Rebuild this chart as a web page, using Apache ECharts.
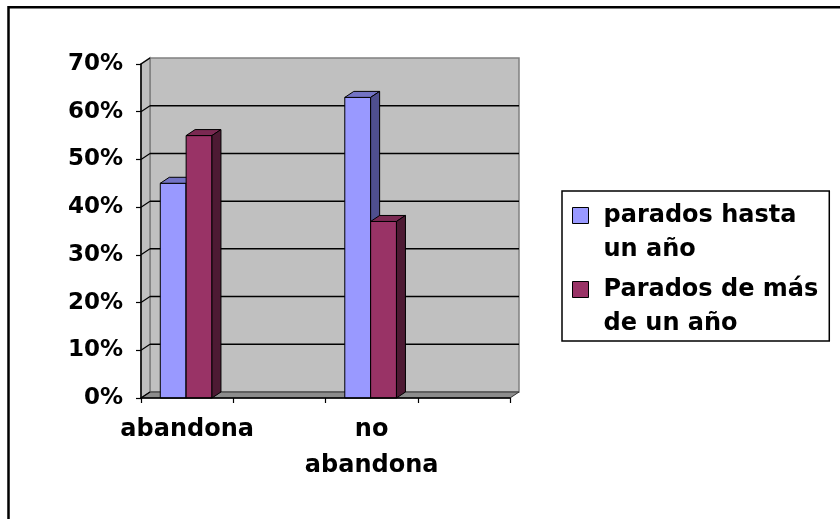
<!DOCTYPE html>
<html>
<head>
<meta charset="utf-8">
<script src="https://cdn.jsdelivr.net/npm/echarts@6/dist/echarts.min.js"></script>
<style>
  html, body { margin: 0; padding: 0; background: #fff; }
  #chart { width: 840px; height: 519px; }
</style>
</head>
<body>
<div id="chart"></div>
<script>
const CATEGORIES = ['abandona', '', 'no abandona', ''];
const SERIES_NAMES = ['parados hasta un año', 'Parados de más de un año'];
const HASTA_UN_ANO = [45, null, 63, null];
const MAS_DE_UN_ANO = [55, null, 37, null];
const Y_TICKS = [0, 10, 20, 30, 40, 50, 60, 70];

// depth offset of the fake 3d look
const DX = 9;
const DY = -6;
const BAR_RATIO = 0.28;
const FONT = 'DejaVu Sans';

function toPoints(values) {
  return values.map((v, i) => [i, v]).filter(d => d[1] != null);
}

function renderWalls(params, api) {
  const cs = params.coordSys;
  const x0 = cs.x, x1 = cs.x + cs.width;
  const yTop = cs.y, yBot = cs.y + cs.height;
  const children = [
    {
      type: 'rect',
      shape: { x: x0 + DX, y: yTop + DY, width: cs.width, height: cs.height },
      style: { fill: '#C0C0C0', stroke: '#808080', lineWidth: 1.5 }
    },
    {
      type: 'polygon',
      shape: { points: [[x0, yBot], [x0, yTop], [x0 + DX, yTop + DY], [x0 + DX, yBot + DY]] },
      style: { fill: '#C0C0C0', stroke: '#808080', lineWidth: 1.5 }
    },
    {
      type: 'polygon',
      shape: { points: [[x0, yBot], [x1, yBot], [x1 + DX, yBot + DY], [x0 + DX, yBot + DY]] },
      style: { fill: '#8C8C8C', stroke: '#333', lineWidth: 1 }
    }
  ];
  Y_TICKS.forEach(v => {
    const y = api.coord([0, v])[1];
    if (v > Y_TICKS[0] && v < Y_TICKS[Y_TICKS.length - 1]) {
      children.push({
        type: 'line',
        shape: { x1: x0 + DX, y1: y + DY, x2: x1 + DX, y2: y + DY },
        style: { stroke: '#000', lineWidth: 1.5 }
      });
    }
    children.push({
      type: 'line',
      shape: { x1: x0, y1: y, x2: x0 + DX, y2: y + DY },
      style: { stroke: '#000', lineWidth: 1.2 }
    });
  });
  return { type: 'group', children: children };
}

function barRenderer(slot, colors) {
  return function (params, api) {
    const cat = api.value(0);
    const val = api.value(1);
    const base = api.coord([cat, 0]);
    const top = api.coord([cat, val]);
    const w = api.size([1, 0])[0] * BAR_RATIO;
    const xl = base[0] - 1 + (slot - 1) * w;
    const xr = xl + w;
    const yb = base[1], yt = top[1];
    const edge = { stroke: '#000', lineWidth: 1 };
    return {
      type: 'group',
      children: [
        {
          type: 'polygon',
          shape: { points: [[xl, yb], [xr, yb], [xr, yt], [xl, yt]] },
          style: Object.assign({ fill: colors[0] }, edge)
        },
        {
          type: 'polygon',
          shape: { points: [[xl, yt], [xr, yt], [xr + DX, yt + DY], [xl + DX, yt + DY]] },
          style: Object.assign({ fill: colors[1] }, edge)
        },
        {
          type: 'polygon',
          shape: { points: [[xr, yb], [xr, yt], [xr + DX, yt + DY], [xr + DX, yb + DY]] },
          style: Object.assign({ fill: colors[2] }, edge)
        }
      ]
    };
  };
}

const chart = echarts.init(document.getElementById('chart'));

const option = {
  backgroundColor: '#fff',
  animation: false,
  color: ['#9999FF', '#993366'],
  graphic: [{
    type: 'rect',
    shape: { x: 8.5, y: 7.3, width: 1000, height: 1000 },
    style: { fill: 'none', stroke: '#000', lineWidth: 2.5 },
    silent: true
  }],
  grid: {
    left: 141,
    right: 330,
    top: 64,
    bottom: 121
  },
  legend: {
    orient: 'vertical',
    left: 562,
    top: 191,
    data: SERIES_NAMES,
    selectedMode: false,
    padding: [7, 11, 0, 10],
    itemGap: 5,
    itemWidth: 26,
    itemHeight: 68,
    icon: 'path://M0,9L16,9L16,25L0,25Z M26,0 M0,68',
    itemStyle: { borderColor: '#000', borderWidth: 1 },
    borderColor: '#000',
    borderWidth: 1.5,
    formatter: name => name.replace(/ (de )?un año$/, '\n$1un año'),
    textStyle: {
      fontFamily: FONT,
      fontWeight: 'bold',
      fontSize: 24,
      lineHeight: 34,
      color: '#000'
    }
  },
  xAxis: {
    type: 'category',
    data: CATEGORIES,
    z: 10,
    axisLine: { lineStyle: { color: '#000', width: 1.5 } },
    axisTick: { show: true, length: 5, interval: 0, lineStyle: { color: '#000', width: 1.2 } },
    axisLabel: {
      interval: 0,
      margin: 14,
      formatter: v => v.replace(' ', '\n'),
      fontFamily: FONT,
      fontWeight: 'bold',
      fontSize: 24,
      lineHeight: 36,
      color: '#000'
    },
    splitLine: { show: false }
  },
  yAxis: {
    type: 'value',
    min: 0,
    max: 70,
    interval: 10,
    z: 10,
    axisLine: { show: true, lineStyle: { color: '#000', width: 1.5 } },
    axisTick: { show: true, length: 5, lineStyle: { color: '#000', width: 1.2 } },
    axisLabel: {
      formatter: '{value}%',
      margin: 18,
      fontFamily: FONT,
      fontWeight: 'bold',
      fontSize: 23,
      color: '#000'
    },
    splitLine: { show: false }
  },
  series: [
    {
      name: 'walls',
      type: 'custom',
      silent: true,
      z: 1,
      renderItem: renderWalls,
      data: [[0, 0]]
    },
    {
      name: SERIES_NAMES[0],
      type: 'custom',
      z: 2,
      itemStyle: { color: '#9999FF' },
      renderItem: barRenderer(0, ['#9999FF', '#7373C4', '#4F4F8F']),
      encode: { x: 0, y: 1 },
      data: toPoints(HASTA_UN_ANO)
    },
    {
      name: SERIES_NAMES[1],
      type: 'custom',
      z: 3,
      itemStyle: { color: '#993366' },
      renderItem: barRenderer(1, ['#993366', '#7A2952', '#4D1A33']),
      encode: { x: 0, y: 1 },
      data: toPoints(MAS_DE_UN_ANO)
    }
  ]
};

chart.setOption(option);
</script>
</body>
</html>
